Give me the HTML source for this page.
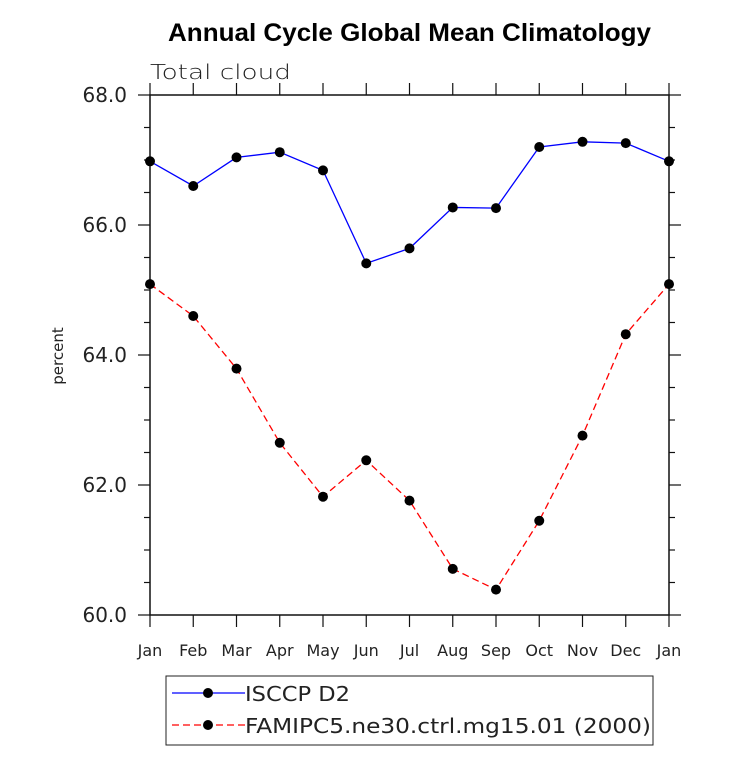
<!DOCTYPE html>
<html><head><meta charset="utf-8"><style>body{margin:0;background:#fff}svg{display:block}</style></head>
<body>
<svg width="733" height="766" xmlns="http://www.w3.org/2000/svg">
<text x="168" y="41" textLength="483" lengthAdjust="spacingAndGlyphs" font-family="Liberation Sans, sans-serif" font-weight="bold" font-size="25">Annual Cycle Global Mean Climatology</text>
<text x="150" y="79" textLength="141" lengthAdjust="spacingAndGlyphs" font-family="DejaVu Sans, sans-serif" font-weight="200" font-size="20" fill="#222">Total cloud</text>
<text transform="translate(63,356) rotate(-90)" text-anchor="middle" font-family="DejaVu Sans, sans-serif" font-size="15" fill="#222">percent</text>
<g id="axes"></g>
<g id="series"></g>
<g>
<rect x="166" y="676" width="487" height="69" fill="none" stroke="#222" stroke-width="1"/>
<g>
<line x1="172" y1="693" x2="245" y2="693" stroke="#00f" stroke-width="1.3"/>
<circle cx="208" cy="693" r="5" fill="#000"/>
<text x="245" y="701" textLength="105" lengthAdjust="spacingAndGlyphs" font-family="DejaVu Sans, sans-serif" font-size="20" fill="#222">ISCCP D2</text>
</g>
<g>
<line x1="172" y1="725" x2="245" y2="725" stroke="#f00" stroke-width="1.3" stroke-dasharray="7,4"/>
<circle cx="208" cy="725" r="5" fill="#000"/>
<text x="245" y="733" textLength="406" lengthAdjust="spacingAndGlyphs" font-family="DejaVu Sans, sans-serif" font-size="20" fill="#222">FAMIPC5.ne30.ctrl.mg15.01 (2000)</text>
</g>
</g>
</svg>
<script>
const months=["Jan","Feb","Mar","Apr","May","Jun","Jul","Aug","Sep","Oct","Nov","Dec","Jan"];
const isccp=[66.98,66.6,67.04,67.12,66.84,65.41,65.64,66.27,66.26,67.2,67.28,67.26,66.98];
const famip=[65.09,64.6,63.79,62.65,61.82,62.38,61.76,60.71,60.39,61.45,62.76,64.32,65.09];
const yTicks=[60,62,64,66,68];
const NS="http://www.w3.org/2000/svg";
const L=150,R=669,T=95,B=615,ymin=60,ymax=68;
const xs=i=>L+(R-L)*i/(months.length-1);
const ys=v=>B-(v-ymin)/(ymax-ymin)*(B-T);
function mk(tag,at,parent){const e=document.createElementNS(NS,tag);for(const k in at)e.setAttribute(k,at[k]);parent.appendChild(e);return e;}
const ax=document.getElementById('axes');
const fr=mk('rect',{x:L,y:T,width:R-L,height:B-T,fill:'none',stroke:'#111','stroke-width':1.5},ax);


months.forEach((m,i)=>{
  const x=xs(i);
  const t1=mk('line',{x1:x,y1:B,x2:x,y2:B+12,stroke:'#111','stroke-width':1.2},ax);
  
  
  const t2=mk('line',{x1:x,y1:T,x2:x,y2:T-12,stroke:'#111','stroke-width':1.2},ax);
  
  
  const tx=mk('text',{x:x,y:B+41,'text-anchor':'middle','font-family':'DejaVu Sans, sans-serif','font-size':16,fill:'#222'},ax);
  tx.textContent=m;
  
  
});
for(let v=ymin;v<=ymax+1e-9;v+=0.5){
  const y=ys(v),maj=Math.abs(v%2)<1e-9,len=maj?12:6;
  const a=mk('line',{x1:L,y1:y,x2:L-len,y2:y,stroke:'#111','stroke-width':1.2},ax);
  
  
  const b=mk('line',{x1:R,y1:y,x2:R+len,y2:y,stroke:'#111','stroke-width':1.2},ax);
  
  
}
yTicks.forEach(v=>{
  const t=mk('text',{x:L-23,y:ys(v)+7,'text-anchor':'end','font-family':'DejaVu Sans, sans-serif','font-size':20,fill:'#222'},ax);
  t.textContent=v.toFixed(1);
  
  
});
const sg=document.getElementById('series');
function series(vals,color,dash,name){
  const g=mk('g',{},sg);
  
  
  const pl=mk('polyline',{points:vals.map((v,i)=>xs(i)+','+ys(v)).join(' '),fill:'none',stroke:color,'stroke-width':1.3,'stroke-dasharray':dash},g);
  
  
  vals.forEach((v,i)=>{
    const c=mk('circle',{cx:xs(i),cy:ys(v),r:5,fill:'#000'},g);
    
    
  });
}
series(isccp,'#00f','none','isccp-series');
series(famip,'#f00','7,4','famipc5-series');
</script>
</body></html>
